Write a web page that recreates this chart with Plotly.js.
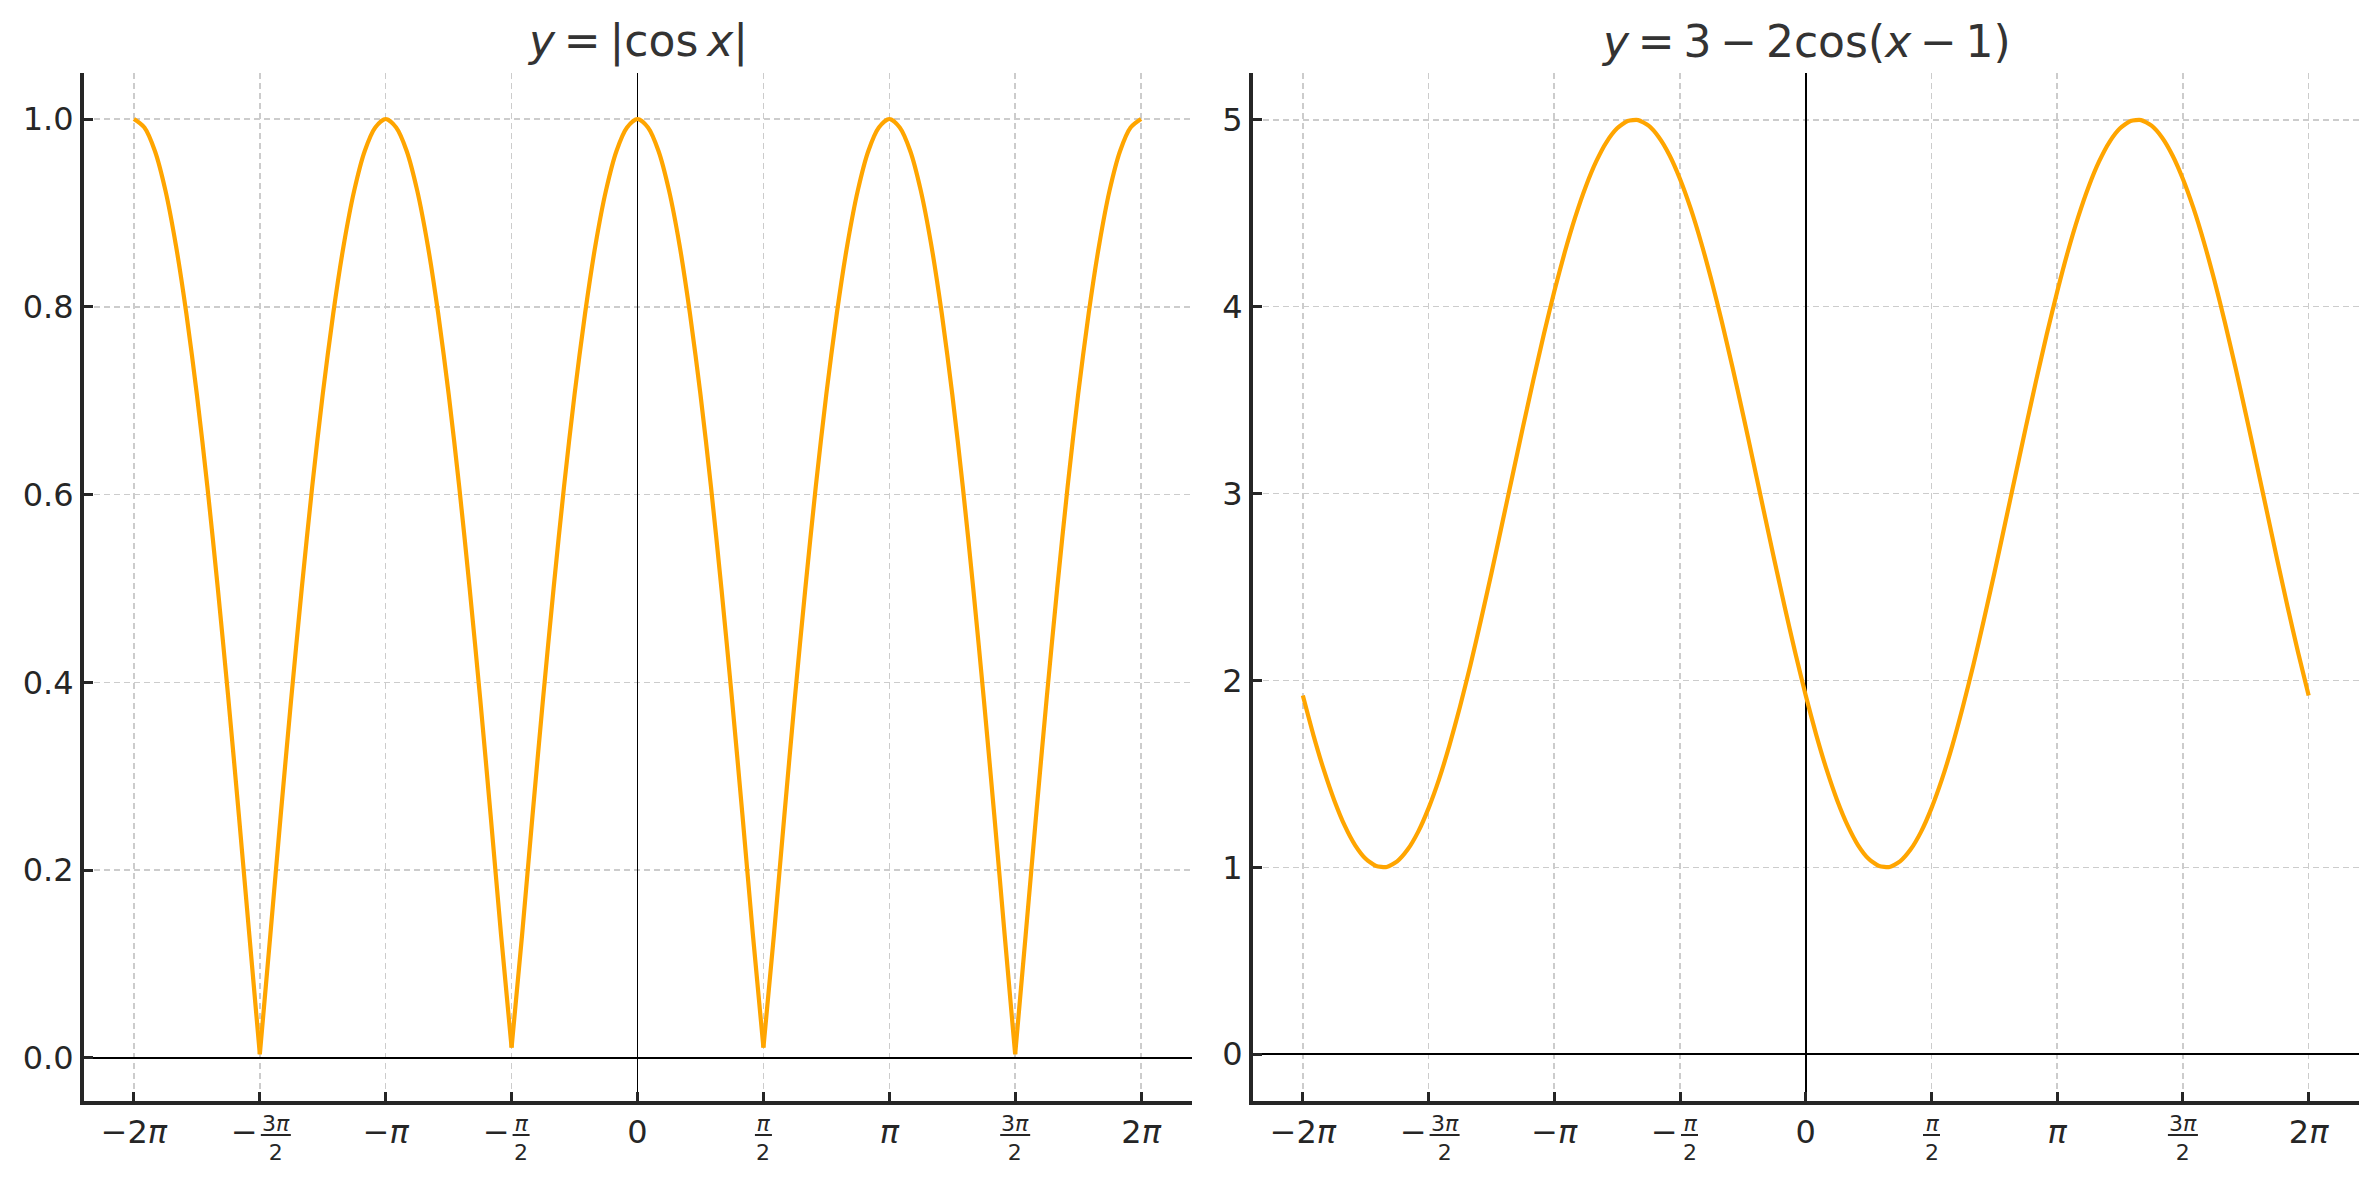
<!DOCTYPE html>
<html>
<head>
<meta charset="utf-8">
<script src="https://cdn.plot.ly/plotly-3.0.1.min.js"></script>
<style>html,body{margin:0;padding:0;background:#fff;}#chart{width:2379px;height:1180px;}</style>
</head>
<body>
<div id="chart"></div>
<script>
// ---------- data ----------
// x positions (radians), -2π .. 2π in steps of π/24
const xValues = [
  -6.283, -6.152, -6.021, -5.890, -5.760, -5.629, -5.498, -5.367, -5.236, -5.105, -4.974, -4.843,
  -4.712, -4.581, -4.451, -4.320, -4.189, -4.058, -3.927, -3.796, -3.665, -3.534, -3.403, -3.272,
  -3.142, -3.011, -2.880, -2.749, -2.618, -2.487, -2.356, -2.225, -2.094, -1.963, -1.833, -1.702,
  -1.571, -1.440, -1.309, -1.178, -1.047, -0.916, -0.785, -0.654, -0.524, -0.393, -0.262, -0.131,
   0.000,  0.131,  0.262,  0.393,  0.524,  0.654,  0.785,  0.916,  1.047,  1.178,  1.309,  1.440,
   1.571,  1.702,  1.833,  1.963,  2.094,  2.225,  2.356,  2.487,  2.618,  2.749,  2.880,  3.011,
   3.142,  3.272,  3.403,  3.534,  3.665,  3.796,  3.927,  4.058,  4.189,  4.320,  4.451,  4.581,
   4.712,  4.843,  4.974,  5.105,  5.236,  5.367,  5.498,  5.629,  5.760,  5.890,  6.021,  6.152,
   6.283
];

// left panel: y = |cos x|
const yAbsCos = [
  1.000, 0.991, 0.966, 0.924, 0.866, 0.793, 0.707, 0.609, 0.500, 0.383, 0.259, 0.131,
  0.004, 0.131, 0.259, 0.383, 0.500, 0.609, 0.707, 0.793, 0.866, 0.924, 0.966, 0.991,
  1.000, 0.991, 0.966, 0.924, 0.866, 0.793, 0.707, 0.609, 0.500, 0.383, 0.259, 0.131,
  0.011, 0.131, 0.259, 0.383, 0.500, 0.609, 0.707, 0.793, 0.866, 0.924, 0.966, 0.991,
  1.000, 0.991, 0.966, 0.924, 0.866, 0.793, 0.707, 0.609, 0.500, 0.383, 0.259, 0.131,
  0.011, 0.131, 0.259, 0.383, 0.500, 0.609, 0.707, 0.793, 0.866, 0.924, 0.966, 0.991,
  1.000, 0.991, 0.966, 0.924, 0.866, 0.793, 0.707, 0.609, 0.500, 0.383, 0.259, 0.131,
  0.004, 0.131, 0.259, 0.383, 0.500, 0.609, 0.707, 0.793, 0.866, 0.924, 0.966, 0.991,
  1.000
];

// right panel: y = 3 - 2cos(x - 1)
const yShiftedCos = [
  1.919, 1.709, 1.521, 1.358, 1.223, 1.118, 1.046, 1.007, 1.002, 1.032, 1.095, 1.190,
  1.317, 1.472, 1.654, 1.859, 2.083, 2.323, 2.574, 2.833, 3.094, 3.354, 3.608, 3.852,
  4.081, 4.291, 4.479, 4.642, 4.777, 4.882, 4.954, 4.993, 4.998, 4.968, 4.905, 4.810,
  4.683, 4.528, 4.346, 4.141, 3.917, 3.677, 3.426, 3.167, 2.906, 2.646, 2.392, 2.148,
  1.919, 1.709, 1.521, 1.358, 1.223, 1.118, 1.046, 1.007, 1.002, 1.032, 1.095, 1.190,
  1.317, 1.472, 1.654, 1.859, 2.083, 2.323, 2.574, 2.833, 3.094, 3.354, 3.608, 3.852,
  4.081, 4.291, 4.479, 4.642, 4.777, 4.882, 4.954, 4.993, 4.998, 4.968, 4.905, 4.810,
  4.683, 4.528, 4.346, 4.141, 3.917, 3.677, 3.426, 3.167, 2.906, 2.646, 2.392, 2.148,
  1.919
];

// x ticks at multiples of π/2
const xTickVals = [-6.283, -4.712, -3.142, -1.571, 0, 1.571, 3.142, 4.712, 6.283];
const xTickText = ["−2<i>π</i>", "", "−<i>π</i>", "", "0", "", "<i>π</i>", "", "2<i>π</i>"];
// stacked fraction labels for the ±π/2, ±3π/2 ticks
const fracTickVals = [-4.712, -1.571, 1.571, 4.712];
const fracNumer = ["3<i>π</i>", "<i>π</i>", "<i>π</i>", "3<i>π</i>"];
const fracDenom = ["2", "2", "2", "2"];
const fracSign = ["−", "−", "", ""];

const yTickLeft = [0, 0.2, 0.4, 0.6, 0.8, 1.0];
const yTickRight = [0, 1, 2, 3, 4, 5];

const titles = ["<i>y</i>\u2009=\u2009|cos\u2009<i>x</i>|",
                "<i>y</i>\u2009=\u20093\u2009−\u20092cos(<i>x</i>\u2009−\u20091)"];

// ---------- split |cos x| into arches at its cusps so a smooth spline keeps the V tips sharp ----------
function splitAtCusps(xs, ys) {
  const ox = [], oy = [];
  for (let i = 0; i < xs.length; i++) {
    ox.push(xs[i]); oy.push(ys[i]);
    const isCusp = i > 0 && i < xs.length - 1 && ys[i] < ys[i - 1] && ys[i] < ys[i + 1];
    if (isCusp) { ox.push(null, xs[i]); oy.push(null, ys[i]); }
  }
  return [ox, oy];
}
const [leftX, leftY] = splitAtCusps(xValues, yAbsCos);

// ---------- layout ----------
const W = 2379, H = 1180;
const FONT = "DejaVu Sans, sans-serif";
const INK = "#262626";
const px = v => v / W, py = v => 1 - v / H;
const domX1 = [px(83.5), px(1191.5)];
const domX2 = [px(1252.5), px(2359)];
const domY = [py(1101), py(73)];

function xAxis(dom, anchor) {
  return {
    domain: dom, anchor: anchor, range: [-6.912, 6.912],
    tickmode: "array", tickvals: xTickVals, ticktext: xTickText,
    ticks: "inside", ticklen: 9, tickwidth: 3, tickcolor: INK,
    tickfont: {family: FONT, size: 32, color: INK},
    showline: true, linecolor: INK, linewidth: 3.5, mirror: false,
    showgrid: true, gridcolor: "#cccccc", gridwidth: 1.6, griddash: "6px,4px",
    zeroline: true, zerolinecolor: "#000000", zerolinewidth: 1.6,
    fixedrange: true
  };
}
function yAxis(range, ticks, fmt, anchor) {
  return {
    domain: domY, anchor: anchor, range: range,
    tickmode: "array", tickvals: ticks, tickformat: fmt,
    ticks: "inside", ticklen: 9, tickwidth: 3, tickcolor: INK,
    tickfont: {family: FONT, size: 32, color: INK},
    showline: true, linecolor: INK, linewidth: 3.5, mirror: false,
    showgrid: true, gridcolor: "#cccccc", gridwidth: 1.6, griddash: "6px,4px",
    zeroline: true, zerolinecolor: "#000000", zerolinewidth: 1.6,
    fixedrange: true
  };
}

const annotations = [];
const shapes = [];
[["x", domX1], ["x2", domX2]].forEach(([xr, dom], p) => {
  annotations.push({
    xref: "paper", yref: "paper", x: (dom[0] + dom[1]) / 2, y: py(69),
    xanchor: "center", yanchor: "bottom", showarrow: false,
    text: titles[p], font: {family: FONT, size: 44, color: "#333333"}
  });
  fracTickVals.forEach((v, i) => {
    const neg = fracSign[i] !== "";
    const barW = fracNumer[i].startsWith("3") ? 30 : 17;
    const off = neg ? (barW / 2 + 1) : 0;
    annotations.push({
      xref: xr, yref: "paper", x: v, y: domY[0], xanchor: "center", yanchor: "top",
      xshift: off, yshift: -8, showarrow: false,
      text: fracNumer[i] + "<br>" + fracDenom[i],
      font: {family: FONT, size: 22, color: INK}
    });
    shapes.push({
      type: "line", xref: xr, yref: "paper", xsizemode: "pixel", ysizemode: "pixel",
      xanchor: v, yanchor: domY[0], x0: off - barW / 2, x1: off + barW / 2, y0: -34, y1: -34,
      line: {color: INK, width: 2}
    });
    if (neg) {
      annotations.push({
        xref: xr, yref: "paper", x: v, y: domY[0], xanchor: "right", yanchor: "middle",
        xshift: off - barW / 2 - 1, yshift: -31, showarrow: false,
        text: fracSign[i], font: {family: FONT, size: 32, color: INK}
      });
    }
  });
});

const traces = [
  {x: leftX, y: leftY, xaxis: "x", yaxis: "y", type: "scatter", mode: "lines", connectgaps: false,
   line: {color: "#FFA500", width: 4.2, shape: "spline", smoothing: 0.8}, hoverinfo: "skip"},
  {x: xValues, y: yShiftedCos, xaxis: "x2", yaxis: "y2", type: "scatter", mode: "lines",
   line: {color: "#FFA500", width: 4.2, shape: "spline", smoothing: 0.6}, hoverinfo: "skip"}
];

const layout = {
  width: W, height: H, margin: {l: 0, r: 0, t: 0, b: 0},
  paper_bgcolor: "#ffffff", plot_bgcolor: "#ffffff",
  showlegend: false, font: {family: FONT, color: INK},
  xaxis: xAxis(domX1, "y"),
  yaxis: yAxis([-0.0458, 1.049], yTickLeft, ".1f", "x"),
  xaxis2: xAxis(domX2, "y2"),
  yaxis2: yAxis([-0.25, 5.25], yTickRight, "d", "x2"),
  annotations: annotations, shapes: shapes
};

Plotly.newPlot("chart", traces, layout, {staticPlot: true, displayModeBar: false});
</script>
</body>
</html>
